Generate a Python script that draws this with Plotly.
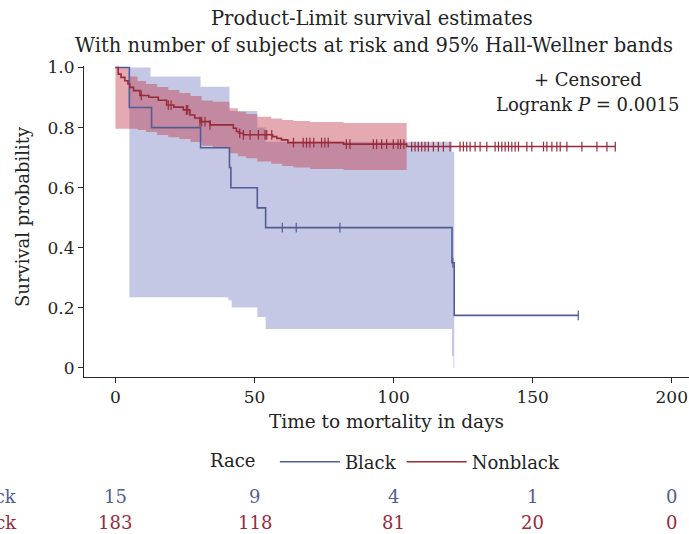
import numpy as np
import plotly.graph_objects as go

# ---------------- data ----------------
black_t = [0, 5, 13, 30.6, 41, 41.5, 51, 54, 121, 121.8, 166.4]
black_s = [1.0, 0.867, 0.800, 0.733, 0.667, 0.600, 0.533, 0.467, 0.350, 0.175, 0.175]
black_cens = [60, 65, 80.7, 121.3, 166.4]

black_band_t = [5, 12.6, 30.6, 40.6, 41, 41.8, 51, 54, 121, 121.5, 121.8]
black_band_lo = [0.235, 0.235, 0.235, 0.225, 0.225, 0.2015, 0.17, 0.13, 0.04, 0.0, 0.0]
black_band_hi = [1.0, 0.97, 0.936, 0.936, 0.855, 0.855, 0.80, 0.753, 0.72, 0.72, 0.72]

nonblack_t = [0, 1, 2, 3.4, 4.5, 5.2, 6.5, 8.8, 12, 15.4, 18.4, 21, 24.4, 26.8, 28.5,
              30.4, 34, 42.4, 43.5, 44.5, 46, 56.5, 58, 59.7, 62, 82, 104.7, 179.7]
nonblack_s = [1.0, 0.978, 0.967, 0.956, 0.945, 0.934, 0.923, 0.907, 0.901, 0.891, 0.875,
              0.868, 0.859, 0.842, 0.832, 0.820, 0.809, 0.798, 0.787, 0.781, 0.776, 0.770,
              0.764, 0.759, 0.750, 0.745, 0.737, 0.737]
nonblack_cens = [9.3, 19, 20, 25.5, 26, 30.4, 31, 32.2, 34, 44.7, 46, 48.4, 51.4, 53.8, 54.4,
                 56.2, 64, 67.5, 68.7, 69.9, 71.3, 74.1, 75.3, 76.5, 83, 84.3, 92.7, 93.9,
                 95.7, 97.5, 99.9, 101.6, 102.5, 103.7, 106.5, 107.7, 108.9, 110.1, 111.3,
                 112.5, 114.3, 116.1, 117.9, 120.3, 123.9, 125.1, 126.3, 127.5, 129.3, 131.1,
                 133.5, 136.5, 137.7, 138.9, 140.1, 141.3, 142.5, 143.7, 144.9, 147.9, 149.7,
                 153.9, 155.1, 156.9, 158.7, 159.9, 162.3, 167.7, 173.1, 176.7, 179.7]

nonblack_band_t = [0, 5, 8, 11, 15, 19, 23, 27, 31, 35, 41, 44, 47, 51, 56, 60, 64, 70, 82, 104.7]
nonblack_band_lo = [0.796, 0.796, 0.792, 0.785, 0.775, 0.768, 0.762, 0.752, 0.740, 0.731,
                    0.715, 0.705, 0.698, 0.687, 0.680, 0.672, 0.667, 0.662, 0.659, 0.659]
nonblack_band_hi = [1.0, 0.97, 0.955, 0.945, 0.935, 0.925, 0.915, 0.905, 0.89, 0.886,
                    0.864, 0.853, 0.845, 0.836, 0.830, 0.825, 0.822, 0.819, 0.815, 0.815]

risk_times = [0, 50, 100, 150, 200]
risk_black = [15, 9, 4, 1, 0]
risk_nonblack = [183, 118, 81, 20, 0]

x_ticks = [0, 50, 100, 150, 200]
y_ticks = [0, 0.2, 0.4, 0.6, 0.8, 1.0]
y_ticktext = ["0", "0.2", "0.4", "0.6", "0.8", "1.0"]

# ---------------- style ----------------
FONT = "DejaVu Serif"
TXT = "rgb(35,35,35)"
BLUE = "rgb(82,92,148)"
RED = "rgb(152,42,58)"
BLUE_FILL = "rgba(128,136,196,0.46)"
RED_FILL = "rgba(190,50,70,0.42)"

W, H = 689, 534
L, R, T, B = 84, 0, 66, 157
PW, PH = W - L - R, H - T - B


def px(xp):
    return (xp - L) / PW


def py(yp):
    return (H - B - yp) / PH


def step_lookup(ts, ss, c):
    i = np.searchsorted(np.asarray(ts), c, side="right") - 1
    return float(ss[max(i, 0)])


fig = go.Figure()

# bands
for t, lo, hi, fc in [(black_band_t, black_band_lo, black_band_hi, BLUE_FILL),
                      (nonblack_band_t, nonblack_band_lo, nonblack_band_hi, RED_FILL)]:
    fig.add_trace(go.Scatter(x=t, y=lo, mode="lines", line=dict(width=0, shape="hv"),
                             showlegend=False, hoverinfo="skip"))
    fig.add_trace(go.Scatter(x=t, y=hi, mode="lines", line=dict(width=0, shape="hv"),
                             fill="tonexty", fillcolor=fc, showlegend=False, hoverinfo="skip"))

# KM curves
fig.add_trace(go.Scatter(x=black_t, y=black_s, mode="lines", name="Black",
                         line=dict(color=BLUE, width=1.6, shape="hv")))
fig.add_trace(go.Scatter(x=nonblack_t, y=nonblack_s, mode="lines", name="Nonblack",
                         line=dict(color=RED, width=1.6, shape="hv")))

# censor marks
for ts, ss, cens, col in [(black_t, black_s, black_cens, BLUE),
                          (nonblack_t, nonblack_s, nonblack_cens, RED)]:
    fig.add_trace(go.Scatter(x=cens, y=[step_lookup(ts, ss, c) for c in cens], mode="markers",
                             marker=dict(symbol="line-ns", size=7, line=dict(color=col, width=1.2)),
                             showlegend=False, hoverinfo="skip"))

annotations = [
    dict(text="Product-Limit survival estimates", x=px(372), y=py(19), size=19.5),
    dict(text="With number of subjects at risk and 95% Hall-Wellner bands", x=px(374), y=py(46), size=19.5),
    dict(text="+ Censored", x=px(588), y=py(79), size=18),
    dict(text="Logrank <i>P</i> = 0.0015", x=px(588), y=py(104), size=18),
    dict(text="Survival probability", x=px(22), y=py(217), textangle=-90, size=18),
]
for a in annotations:
    s = a.pop("size")
    a.update(xref="paper", yref="paper", showarrow=False, xanchor="center", yanchor="middle",
             font=dict(family=FONT, size=s, color=TXT))
for name, yp, col in [("Black", 496, BLUE), ("Nonblack", 522, RED)]:
    annotations.append(dict(text=name, x=px(19), y=py(yp), xref="paper", yref="paper",
                            showarrow=False, xanchor="right", yanchor="middle",
                            font=dict(family=FONT, size=18, color=col)))
for vals, yp, col in [(risk_black, 496, BLUE), (risk_nonblack, 522, RED)]:
    for t, v in zip(risk_times, vals):
        annotations.append(dict(text=str(v), x=t, y=py(yp), xref="x", yref="paper",
                                showarrow=False, xanchor="center", yanchor="middle",
                                font=dict(family=FONT, size=18, color=col)))

fig.update_layout(
    width=W, height=H,
    margin=dict(l=L, r=R, t=T, b=B, pad=0),
    paper_bgcolor="white", plot_bgcolor="white",
    font=dict(family=FONT, size=17, color=TXT),
    annotations=annotations,
    showlegend=True,
    legend=dict(orientation="h", x=0.5, xanchor="center", y=py(462), yanchor="middle",
                traceorder="normal",
                title=dict(text="Race  ", side="left", font=dict(family=FONT, size=18, color=TXT)),
                font=dict(family=FONT, size=18, color=TXT), itemwidth=60,
                bgcolor="rgba(0,0,0,0)"),
    xaxis=dict(range=[-11.3, 206.2], tickvals=x_ticks, ticktext=[str(v) for v in x_ticks],
               showgrid=False, zeroline=False, showline=True, linecolor="rgb(40,40,40)",
               linewidth=1, ticks="outside", ticklen=5, tickcolor="rgb(40,40,40)",
               tickfont=dict(family=FONT, size=17, color=TXT),
               title=dict(text="Time to mortality in days", standoff=8,
                          font=dict(family=FONT, size=18.5, color=TXT))),
    yaxis=dict(range=[-0.03, 1.005], tickvals=y_ticks, ticktext=y_ticktext,
               showgrid=False, zeroline=False, showline=True, linecolor="rgb(40,40,40)",
               linewidth=1, ticks="outside", ticklen=5, tickcolor="rgb(40,40,40)",
               tickfont=dict(family=FONT, size=17, color=TXT)),
)

fig.write_html("out.html", config={"displayModeBar": False},
               post_script="document.body.style.margin='0';")
